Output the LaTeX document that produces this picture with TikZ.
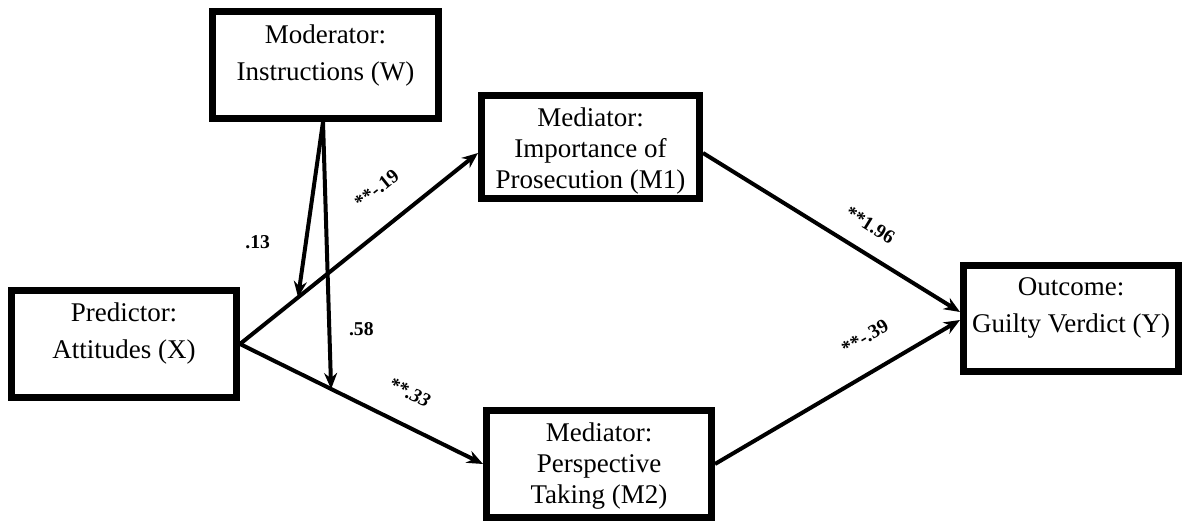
\documentclass[tikz,border=0pt]{standalone}
\usepackage{fontspec}
\setmainfont{Liberation Serif}
\usetikzlibrary{arrows.meta,calc,positioning}

\begin{document}
\begin{tikzpicture}[
    x=0.5pt, y=-0.5pt,
    box/.style={rectangle, draw=black, line width=3.5pt, inner sep=0pt},
    boxtext/.style={anchor=north, align=center, inner sep=0pt, font=\fontsize{13.5}{18.5}\selectfont},
    boxtextiii/.style={boxtext, font=\fontsize{13.5}{15.5}\selectfont},
    coef/.style={inner sep=0pt, font=\fontsize{9.8}{11}\selectfont\bfseries},
    arrow/.style={-{Stealth[length=8pt,width=6.5pt]}, line width=2pt}
]
\useasboundingbox (0,0) rectangle (1183,523);

% Boxes
\node[box, minimum width=113pt, minimum height=53.5pt] (mod) at (325.5,65) {};
\node[box, minimum width=109pt, minimum height=51.5pt] (imp) at (590.5,147) {};
\node[box, minimum width=112.5pt, minimum height=53.5pt] (att) at (124,344) {};
\node[box, minimum width=112.5pt, minimum height=53.5pt] (persp) at (599,464) {};
\node[box, minimum width=107.5pt, minimum height=53pt] (guilt) at (1071,318.5) {};

% Box texts
\node[boxtext] (modtxt) at ([yshift=-8pt]mod.north) {Moderator:\\Instructions (W)};
\node[boxtextiii] (imptxt) at ([yshift=-7.5pt]imp.north) {Mediator:\\Importance of\\Prosecution (M1)};
\node[boxtext] (atttxt) at ([yshift=-7.5pt]att.north) {Predictor:\\Attitudes (X)};
\node[boxtextiii] (persptxt) at ([yshift=-7.5pt]persp.north) {Mediator:\\Perspective\\Taking (M2)};
\node[boxtext] (guilttxt) at ([yshift=-7.5pt]guilt.north) {Outcome:\\Guilty Verdict (Y)};

% Path ends
\coordinate (impin) at ([yshift=-3pt]imp.west);
\coordinate (modout) at ([xshift=-1.25pt]mod.south);
\coordinate (w13) at ($(att.east)!0.244!(impin)$);
\coordinate (w58) at ($(att.east)!0.375!(persp.west)$);

% Arrows
\draw[arrow] (att.east) -- node[coef, sloped, above=13.3pt, pos=0.667] (c19) {**-.19} (impin);
\draw[arrow] (att.east) -- node[coef, sloped, above=11.5pt, pos=0.64, font=\fontsize{9.8}{11}\selectfont\bfseries\itshape] (c33) {**.33} (persp.west);
\draw[arrow] ([yshift=-3pt]imp.east) -- node[coef, sloped, above=8.9pt, pos=0.596] (c196) {**1.96} ([yshift=3.25pt]guilt.west);
\draw[arrow] (persp.east) -- node[coef, sloped, above=12.3pt, pos=0.681] (c39) {**-.39} ([yshift=-0.75pt]guilt.west);
\draw[arrow] (modout) -- node[coef, left=17pt, pos=0.683] (c13) {.13} (w13);
\draw[arrow] (modout) -- node[coef, right=8.9pt, pos=0.774] (c58) {.58} (w58);

\end{tikzpicture}
\end{document}
